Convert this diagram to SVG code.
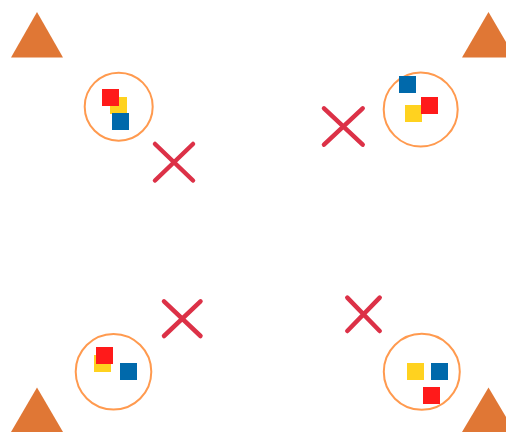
<svg xmlns="http://www.w3.org/2000/svg" width="506" height="432" viewBox="0 0 506 432">
<style>
.tri{fill:#E07735}
.ring{fill:none;stroke:#FF9A4F;stroke-width:2}
.r{fill:#FF1A1A}.y{fill:#FFD21F}.b{fill:#0069AB}
.x{stroke:#DC3147;stroke-width:4.5;stroke-linecap:round;fill:none}
</style>
<rect width="506" height="432" fill="#fff"/>
<g id="tri-tl"><polygon class="tri" points="37,12 11,57.5 63,57.5"/></g>
<g id="tri-tr"><polygon class="tri" points="488.5,12 462,57.5 515,57.5"/></g>
<g id="tri-bl"><polygon class="tri" points="37,387.5 11,432 63,432"/></g>
<g id="tri-br"><polygon class="tri" points="488.5,387.5 462,432 515,432"/></g>
<g id="node-tl">
<circle class="ring" cx="118.7" cy="106.7" r="34"/>
<rect class="y" x="110" y="97" width="17" height="17"/>
<rect class="r" x="102" y="89" width="17" height="17"/>
<rect class="b" x="112" y="113" width="17" height="17"/>
</g>
<g id="node-tr">
<circle class="ring" cx="420.7" cy="109.5" r="37"/>
<rect class="b" x="399" y="76" width="17" height="17"/>
<rect class="y" x="405" y="105" width="17" height="17"/>
<rect class="r" x="421" y="97" width="17" height="17"/>
</g>
<g id="node-bl">
<circle class="ring" cx="113.5" cy="371.8" r="37.8"/>
<rect class="y" x="94" y="355" width="17" height="17"/>
<rect class="r" x="96" y="347" width="17" height="17"/>
<rect class="b" x="120" y="363" width="17" height="17"/>
</g>
<g id="node-br">
<circle class="ring" cx="421.8" cy="371.8" r="38"/>
<rect class="y" x="407" y="363" width="17" height="17"/>
<rect class="b" x="431" y="363" width="17" height="17"/>
<rect class="r" x="423" y="387" width="17" height="17"/>
</g>
<g id="connectors">
<path class="x" d="M155,144 L193,180.5 M193,144 L155,180.5"/>
<path class="x" d="M324,108.3 L362.7,144.7 M362.7,108.3 L324,144.7"/>
<path class="x" d="M164,301.3 L200.5,336 M200.5,301.3 L164,336"/>
<path class="x" d="M347.3,297.6 L379.7,331 M379.7,297.6 L347.3,331"/>
</g>
</svg>
